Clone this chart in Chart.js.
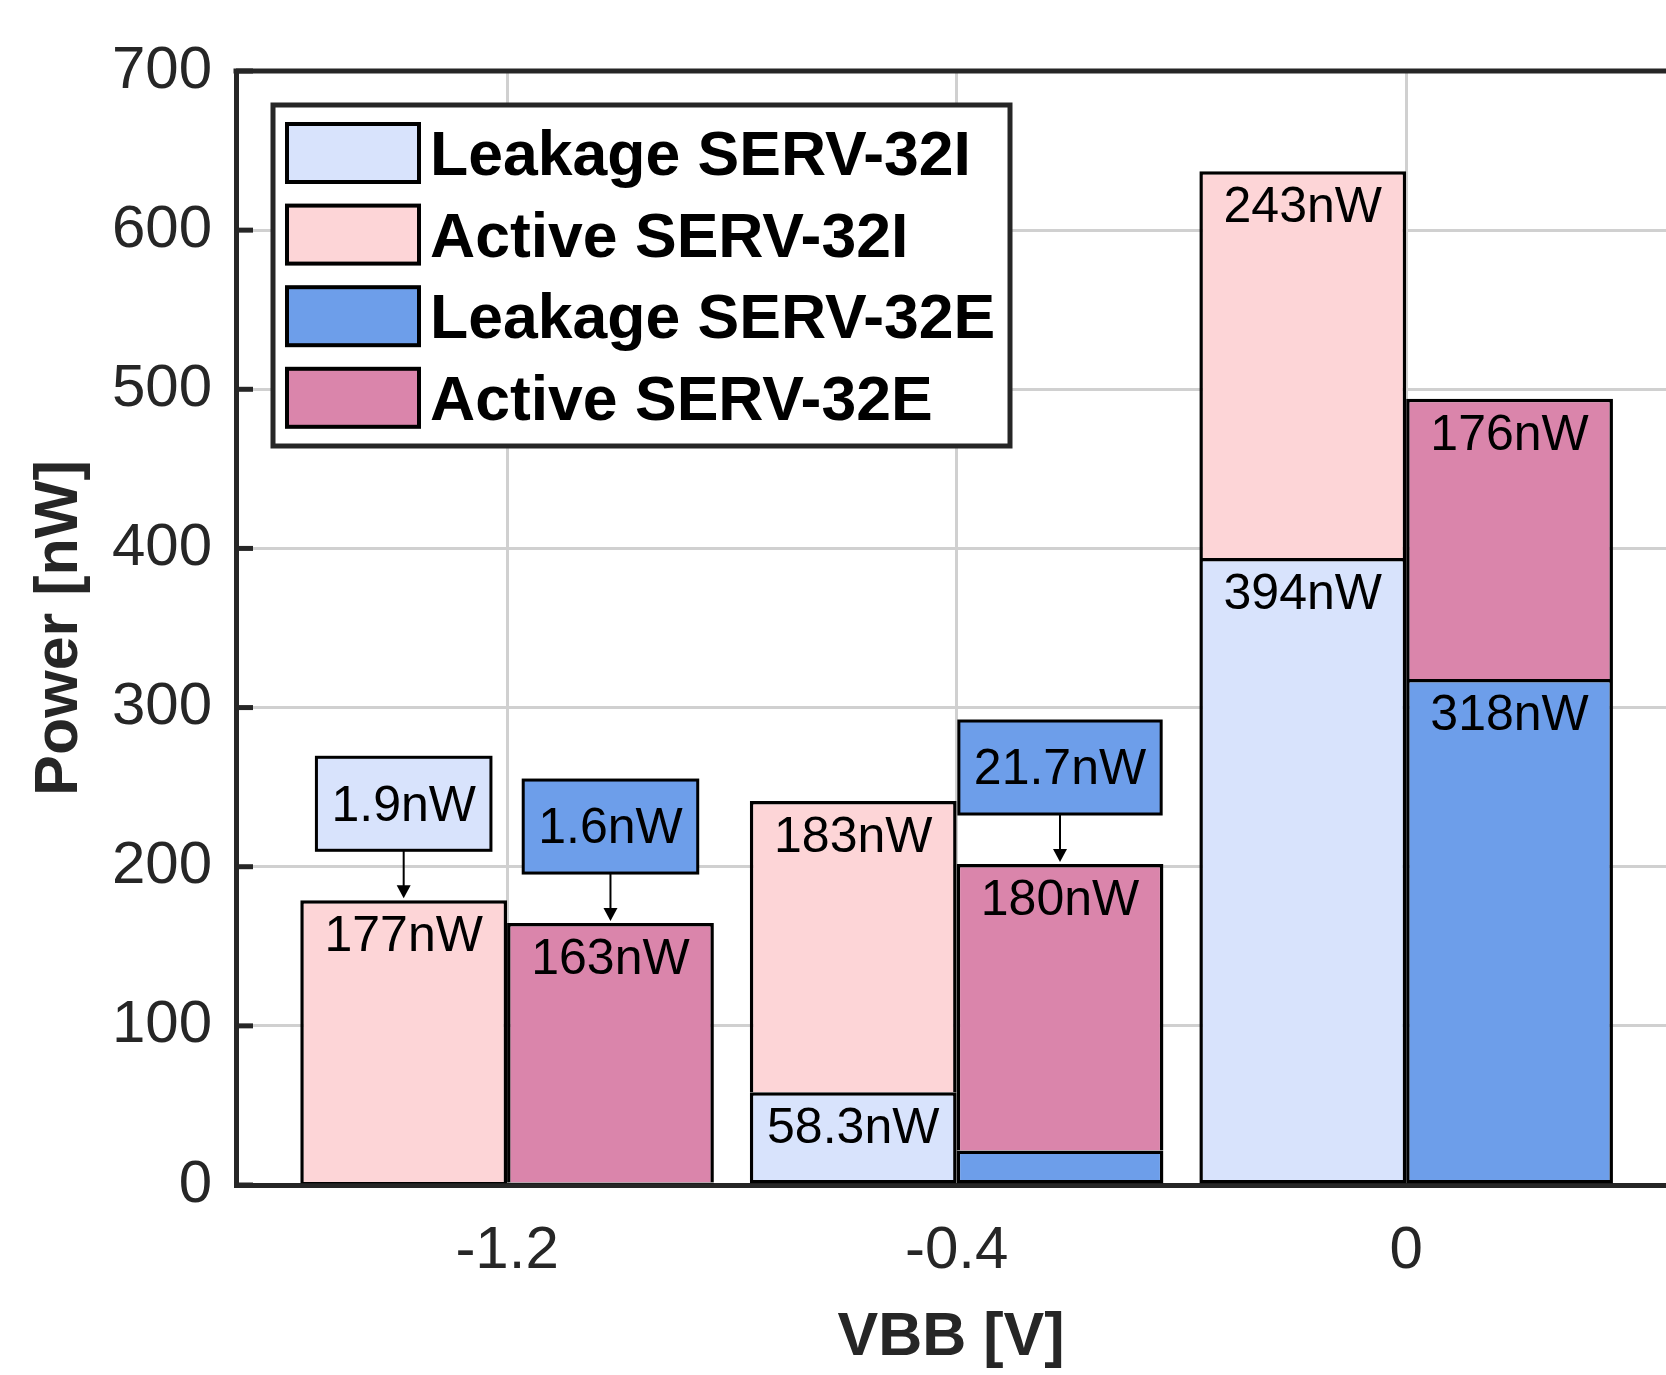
<!DOCTYPE html>
<html>
<head>
<meta charset="utf-8">
<title>Power vs VBB</title>
<script src="https://cdn.jsdelivr.net/npm/chart.js@4.4.1/dist/chart.umd.min.js"></script>
<style>
  html, body { margin: 0; padding: 0; background: #fff; overflow: hidden; }
  canvas { display: block; }
</style>
</head>
<body>
<canvas id="myChart" width="1666" height="1375"></canvas>
<script>
var vbb = ['-1.2', '-0.4', '0'];
var leakage32I = [1.9, 58.3, 394];
var active32I = [177, 183, 243];
var leakage32E = [1.6, 21.7, 318];
var active32E = [163, 180, 176];
var yTicks = [0, 100, 200, 300, 400, 500, 600, 700];

var FONT = "'Liberation Sans', Arial, Helvetica, sans-serif";
var AXIS = '#262626';

function points(values) {
  return values.map(function (v, i) { return { x: i, y: v }; });
}

// top border + inward tick marks on the left axis
var framePlugin = {
  id: 'frame',
  afterDatasetsDraw: function (chart) {
    var ctx = chart.ctx, a = chart.chartArea, y = chart.scales.y;
    ctx.save();
    ctx.strokeStyle = AXIS;
    ctx.lineWidth = 5;
    ctx.beginPath();
    ctx.moveTo(a.left - 2.5, a.top);
    ctx.lineTo(a.right, a.top);
    ctx.stroke();
    yTicks.forEach(function (t) {
      var py = y.getPixelForValue(t);
      ctx.beginPath();
      ctx.moveTo(a.left, py);
      ctx.lineTo(a.left + 17, py);
      ctx.stroke();
    });
    ctx.restore();
  }
};

// value labels: inside the segment, or a callout box above the stack when it is too thin
var labelPlugin = {
  id: 'segmentLabels',
  afterDatasetsDraw: function (chart) {
    var ctx = chart.ctx;
    ctx.save();
    ctx.font = '50px ' + FONT;
    ctx.textAlign = 'center';
    ctx.textBaseline = 'middle';
    chart.data.datasets.forEach(function (ds, di) {
      var meta = chart.getDatasetMeta(di);
      meta.data.forEach(function (bar, i) {
        var text = ds.data[i].y + 'nW';
        if (bar.base - bar.y > 70) {
          ctx.fillStyle = '#000';
          ctx.fillText(text, bar.x, bar.y + 37);
          return;
        }
        var top = bar.y;
        chart.data.datasets.forEach(function (other, oi) {
          if (other.stack === ds.stack) {
            top = Math.min(top, chart.getDatasetMeta(oi).data[i].y);
          }
        });
        var w = ctx.measureText(text).width + 30;
        var bh = 93;
        var bottom = top - 50;
        ctx.fillStyle = ds.backgroundColor;
        ctx.fillRect(bar.x - w / 2, bottom - bh, w, bh);
        ctx.lineWidth = 3;
        ctx.strokeStyle = '#000';
        ctx.strokeRect(bar.x - w / 2, bottom - bh, w, bh);
        ctx.fillStyle = '#000';
        ctx.fillText(text, bar.x, bottom - bh / 2 + 3);
        ctx.lineWidth = 2;
        ctx.beginPath();
        ctx.moveTo(bar.x, bottom);
        ctx.lineTo(bar.x, top - 12);
        ctx.stroke();
        ctx.beginPath();
        ctx.moveTo(bar.x - 7, top - 15);
        ctx.lineTo(bar.x + 7, top - 15);
        ctx.lineTo(bar.x, top - 2);
        ctx.closePath();
        ctx.fill();
      });
    });
    ctx.restore();
  }
};

// boxed legend in the top left corner of the plot
var legendPlugin = {
  id: 'boxLegend',
  afterDraw: function (chart) {
    var ctx = chart.ctx, a = chart.chartArea;
    var x0 = a.left + 37, y0 = a.top + 34, w = 737, h = 341;
    ctx.save();
    ctx.fillStyle = '#fff';
    ctx.fillRect(x0, y0, w, h);
    ctx.strokeStyle = AXIS;
    ctx.lineWidth = 5;
    ctx.strokeRect(x0, y0, w, h);
    ctx.font = 'bold 62.5px ' + FONT;
    ctx.textAlign = 'left';
    ctx.textBaseline = 'middle';
    chart.data.datasets.forEach(function (ds, i) {
      var sy = y0 + 19 + i * 81.6;
      ctx.fillStyle = ds.backgroundColor;
      ctx.fillRect(x0 + 14, sy, 132, 58);
      ctx.lineWidth = 4;
      ctx.strokeStyle = '#000';
      ctx.strokeRect(x0 + 14, sy, 132, 58);
      ctx.fillStyle = '#000';
      ctx.fillText(ds.label, x0 + 157, sy + 34);
    });
    ctx.restore();
  }
};

var ctx = document.getElementById('myChart');

var myChart = new Chart(ctx, {
  type: 'bar',
  data: {
    datasets: [
      { label: 'Leakage SERV-32I', data: points(leakage32I), stack: 'I', backgroundColor: '#d8e3fc', borderSkipped: false },
      { label: 'Active SERV-32I', data: points(active32I), stack: 'I', backgroundColor: '#fdd5d7', borderSkipped: 'start' },
      { label: 'Leakage SERV-32E', data: points(leakage32E), stack: 'E', backgroundColor: '#6d9eea', borderSkipped: false },
      { label: 'Active SERV-32E', data: points(active32E), stack: 'E', backgroundColor: '#da85ab', borderSkipped: 'start' }
    ]
  },
  options: {
    responsive: false,
    animation: false,
    devicePixelRatio: 1,
    layout: { padding: { top: 71, right: 0, bottom: 0, left: 0 } },
    datasets: {
      bar: { borderColor: '#000', borderWidth: 3.5, categoryPercentage: 0.92, barPercentage: 1 }
    },
    plugins: { legend: { display: false }, tooltip: { enabled: false } },
    scales: {
      x: {
        type: 'linear',
        stacked: true,
        offset: false,
        min: -0.603,
        max: 2.578,
        afterBuildTicks: function (scale) {
          scale.ticks = vbb.map(function (l, i) { return { value: i }; });
        },
        afterFit: function (scale) { scale.height = 190; },
        grid: { color: '#d0d0d0', lineWidth: 3, drawTicks: false, offset: false },
        border: { color: AXIS, width: 5 },
        ticks: {
          padding: 30,
          color: AXIS,
          font: { size: 60, family: FONT, lineHeight: 1.2 },
          callback: function (v) { return vbb[v]; }
        },
        title: {
          display: true,
          text: 'VBB [V]',
          color: AXIS,
          font: { size: 61, weight: 'bold', family: FONT, lineHeight: 1.2 },
          padding: { top: 0, bottom: 0 }
        }
      },
      y: {
        stacked: true,
        min: 0,
        max: 700,
        afterBuildTicks: function (scale) {
          scale.ticks = yTicks.map(function (t) { return { value: t }; });
        },
        afterFit: function (scale) { scale.width = 236; },
        grid: { color: '#d0d0d0', lineWidth: 3, drawTicks: false },
        border: { color: AXIS, width: 5 },
        ticks: {
          padding: 24,
          color: AXIS,
          font: { size: 60, family: FONT, lineHeight: 1.2 }
        },
        title: {
          display: true,
          text: 'Power [nW]',
          color: AXIS,
          font: { size: 61, weight: 'bold', family: FONT, lineHeight: 1.2 },
          padding: { top: 24, bottom: 0 }
        }
      }
    }
  },
  plugins: [framePlugin, labelPlugin, legendPlugin]
});
</script>
</body>
</html>
